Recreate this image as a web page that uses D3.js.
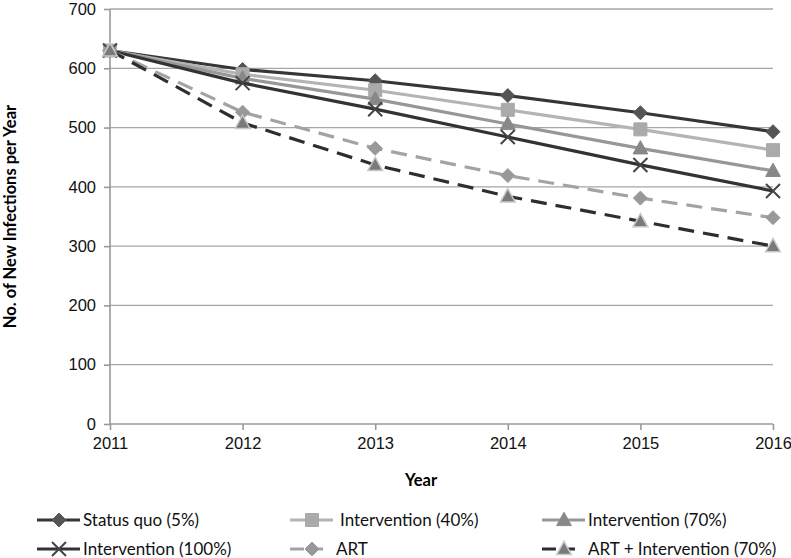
<!DOCTYPE html>
<html>
<head>
<meta charset="utf-8">
<script src="https://cdn.jsdelivr.net/npm/d3@7"></script>
<style>
  body { margin: 0; background: #fff; }
  svg { font-family: Lato, "Open Sans", sans-serif; }
  .tick text { font-size: 16.5px; fill: #111; }
</style>
</head>
<body>
<svg width="791" height="558"></svg>
<script>
// data
var years = [2011, 2012, 2013, 2014, 2015, 2016];
var yTicks = [0, 100, 200, 300, 400, 500, 600, 700];

var statusQuo  = [630, 598, 579, 554, 525, 493];
var interv40   = [630, 590, 563, 530, 497, 462];
var interv70   = [630, 583, 548, 506, 465, 427];
var interv100  = [630, 575, 531, 484, 437, 393];
var art        = [630, 526, 465, 419, 381, 348];
var artInterv  = [630, 508, 437, 384, 342, 300];

var seriesNames = ['Status quo (5%)', 'Intervention (40%)', 'Intervention (70%)',
                   'Intervention (100%)', 'ART', 'ART + Intervention (70%)'];

var series = [
  {name: seriesNames[0], values: statusQuo, color: '#363636', mcolor: '#555', marker: 'diamond', dash: null},
  {name: seriesNames[1], values: interv40,  color: '#b4b4b4', mcolor: '#aaa', marker: 'square', dash: null},
  {name: seriesNames[2], values: interv70,  color: '#979797', mcolor: '#888', marker: 'triangle', dash: null},
  {name: seriesNames[3], values: interv100, color: '#333', mcolor: '#444', marker: 'x', dash: null},
  {name: seriesNames[4], values: art,       color: '#a3a3a3', mcolor: '#999', marker: 'diamond', dash: '16,9'},
  {name: seriesNames[5], values: artInterv, color: '#2e2e2e', mcolor: '#aaa', marker: 'triangle2', dash: '16,9'}
];

var svg = d3.select('svg');

var x = d3.scaleLinear().domain([2011, 2016]).range([110, 773]);
var y = d3.scaleLinear().domain([0, 700]).range([424, 9]);

// gridlines
svg.append('g')
  .selectAll('line')
  .data(yTicks.slice(1))
  .enter().append('line')
    .attr('x1', x(2011)).attr('x2', x(2016))
    .attr('y1', function(d) { return y(d); })
    .attr('y2', function(d) { return y(d); })
    .attr('stroke', '#a6a6a6').attr('stroke-width', 1.3);

// axes
var yAxis = svg.append('g')
  .attr('transform', 'translate(' + x(2011) + ',0)')
  .call(d3.axisLeft(y).tickValues(yTicks).tickSize(6).tickPadding(8).tickFormat(d3.format('d')));
var xAxis = svg.append('g')
  .attr('transform', 'translate(0,' + y(0) + ')')
  .call(d3.axisBottom(x).tickValues(years).tickSize(6).tickPadding(5).tickFormat(d3.format('d')));
[yAxis, xAxis].forEach(function(a) {
  a.select('.domain').attr('stroke', '#999').attr('stroke-width', 1.6);
  a.selectAll('.tick line').attr('stroke', '#999').attr('stroke-width', 1.6);
});
yAxis.select('.domain').attr('d', 'M0,' + y(0) + 'V' + y(700));
xAxis.select('.domain').attr('d', 'M' + x(2011) + ',0H' + x(2016));
xAxis.selectAll('.tick text').attr('dy', '0.85em');

// axis titles
svg.append('text')
  .attr('x', 421).attr('y', 486)
  .attr('text-anchor', 'middle')
  .style('font-weight', 'bold').style('font-size', '16.5px')
  .text('Year');
svg.append('text')
  .attr('transform', 'translate(16,' + y(350) + ') rotate(-90)')
  .attr('text-anchor', 'middle')
  .style('font-weight', 'bold').style('font-size', '16.5px')
  .text('No. of New Infections per Year');

function markerPath(type, s) {
  if (type == 'diamond') return 'M0,' + (-s) + 'L' + s + ',0L0,' + s + 'L' + (-s) + ',0Z';
  if (type == 'square') return 'M' + (-s) + ',' + (-s) + 'H' + s + 'V' + s + 'H' + (-s) + 'Z';
  if (type == 'triangle' || type == 'triangle2') return 'M0,' + (-s * 1.1) + 'L' + (s * 1.05) + ',' + (s * 0.8) + 'L' + (-s * 1.05) + ',' + (s * 0.8) + 'Z';
  if (type == 'x') return 'M' + (-s) + ',' + (-s) + 'L' + s + ',' + s + 'M' + s + ',' + (-s) + 'L' + (-s) + ',' + s;
}

function drawMarker(g, d, cx, cy) {
  var s = d.marker == 'square' ? 6.5 : 7;
  var p = g.append('path')
    .attr('transform', 'translate(' + cx + ',' + cy + ')')
    .attr('d', markerPath(d.marker, s));
  if (d.marker == 'x') {
    p.attr('fill', 'none').attr('stroke', d.mcolor).attr('stroke-width', 2);
  } else if (d.marker == 'triangle2') {
    p.attr('fill', '#7a7a7a').attr('stroke', '#c8c8c8').attr('stroke-width', 1.5);
  } else {
    p.attr('fill', d.mcolor).attr('stroke', d.mcolor).attr('stroke-width', 1);
  }
}

var line = d3.line()
  .x(function(d, i) { return x(years[i]); })
  .y(function(d) { return y(d); });

series.forEach(function(d) {
  var g = svg.append('g');
  g.append('path')
    .attr('d', line(d.values))
    .attr('fill', 'none')
    .attr('stroke', d.color)
    .attr('stroke-width', 3.2)
    .attr('stroke-dasharray', d.dash);
  d.values.forEach(function(v, i) {
    drawMarker(g, d, x(years[i]), y(v));
  });
});

// legend
var legendPos = [[37, 520], [290, 520], [542, 520], [37, 549], [290, 549], [542, 549]];
series.forEach(function(d, i) {
  var lx = legendPos[i][0], ly = legendPos[i][1];
  var g = svg.append('g');
  var len = d.dash ? 33 : 43;
  g.append('path')
    .attr('d', 'M' + lx + ',' + ly + 'H' + (lx + len))
    .attr('stroke', d.color)
    .attr('stroke-width', 3.2)
    .attr('stroke-dasharray', d.dash ? '14,5' : null);
  drawMarker(g, d, lx + 22, ly);
  g.append('text')
    .attr('x', d.dash ? lx + 46 : lx + (i % 3 == 1 ? 50 : 46)).attr('y', ly)
    .attr('dy', '0.35em')
    .style('font-size', '17px')
    .attr('fill', '#111')
    .text(d.name);
});
</script>
</body>
</html>
